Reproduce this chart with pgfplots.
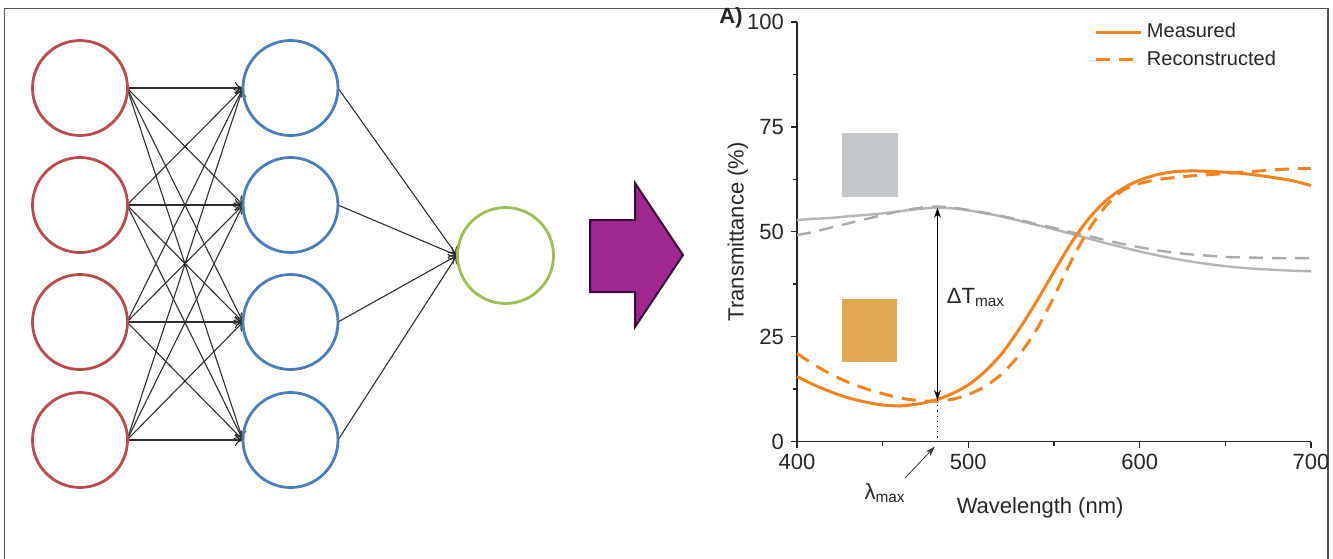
\documentclass[border=0pt]{standalone}
\usepackage{pgfplots}
\pgfplotsset{compat=1.18}
\usepackage{fontspec}
\setmainfont{Liberation Sans}
\usetikzlibrary{arrows.meta}
\definecolor{redc}{HTML}{B84A4E}
\definecolor{bluec}{HTML}{4A7EBB}
\definecolor{greenc}{HTML}{9DBE55}
\definecolor{edgec}{HTML}{2E2E2E}
\definecolor{purplec}{HTML}{9E2890}
\definecolor{purpled}{HTML}{3A0A36}
\definecolor{framec}{HTML}{555555}
\definecolor{orangec}{HTML}{F2831F}
\definecolor{greyc}{HTML}{B5B5B5}
\definecolor{greydc}{HTML}{A9A9A9}
\definecolor{sqgrey}{HTML}{C3C7C9}
\definecolor{sqorange}{HTML}{DFA84F}
\begin{document}
\begin{tikzpicture}
\clip (0,0) rectangle (666.5pt,-279pt);
\fill[white] (0,0) rectangle (666.5pt,-279pt);
\begin{scope}[x=0.5pt,y=-0.5pt]
  \draw[framec, line width=0.7pt] (4.5,8.5) rectangle (1328,570);
  % input -> hidden
  \foreach \a in {88,205,322,440}{
    \foreach \b in {88,205,322,440}{
      \draw[edgec, line width=0.55pt, -{To[length=4pt,width=6pt]}] (127,\a) -- (243,\b);
    }
  }
  % hidden -> output
  \foreach \b in {88,205,322,440}{
    \draw[edgec, line width=0.55pt, -{To[length=4pt,width=6pt]}] (338,\b) -- (457,255.5);
  }
  \foreach \a in {88,205,322,440}{
    \draw[redc, line width=1.4pt] (80,\a) circle[radius=47.5];
    \draw[bluec, line width=1.4pt] (290.5,\a) circle[radius=47.5];
  }
  \draw[greenc, line width=1.4pt] (505.5,255.5) circle[radius=48];
  % big arrow
  \draw[purpled, fill=purplec, line width=1pt, line join=miter]
    (590,220) -- (635,220) -- (635,183) -- (683,255) -- (635,327) -- (635,292) -- (590,292) -- cycle;
  \node[font=\bfseries\fontsize{11}{13}\selectfont, text=black!85] at (731,18) {A)};
\end{scope}
\begin{axis}[
  at={(398.5pt,-220.75pt)}, anchor=south west,
  scale only axis, width=257pt, height=209.75pt,
  xmin=400, xmax=700, ymin=0, ymax=100,
  axis x line*=bottom, axis y line*=left,
  axis line style={-, black!85, line width=0.8pt},
  xtick={400,500,600,700}, ytick={0,25,50,75,100},
  minor x tick num=1, minor y tick num=1,
  tick align=outside, major tick length=3pt, minor tick length=2pt,
  tick style={black!85, line width=0.7pt},
  tick label style={font=\fontsize{11}{13}\selectfont, text=black!85},
  /pgf/number format/assume math mode=true,
  /pgf/number format/1000 sep={},
  xlabel={Wavelength (nm)}, ylabel={Transmittance (\%)},
  label style={font=\fontsize{11}{13}\selectfont, text=black!85},
  xlabel style={at={(axis description cs:0.473,-0.1585)}, anchor=center},
  ylabel style={at={(axis description cs:-0.1148,0.5)}, anchor=center},
  clip=false,
  legend style={at={(axis description cs:0.574,1.012)}, anchor=north west,
    draw=none, fill=none, font=\fontsize{10}{12}\selectfont, text=black!85,
    row sep=1pt, inner sep=1pt},
  legend cell align=left,
  legend image code/.code={\draw[#1] (0cm,0cm) -- (0.8cm,0cm);},
]
\fill[sqgrey] (axis cs:426.3,73.5) rectangle (axis cs:458.9,58.3);
\fill[sqorange] (axis cs:426.3,34.0) rectangle (axis cs:458.4,19.0);

\addplot[greyc, line width=1.2pt, smooth, forget plot] coordinates {
(400,52.8) (410,53.1) (420,53.3) (430,53.7) (440,54.0) (450,54.4) (460,54.9)
(470,55.4) (480,55.7) (490,55.6) (500,55.1) (510,54.4) (520,53.6) (530,52.6)
(540,51.6) (550,50.6) (560,49.5) (570,48.4) (580,47.3) (590,46.3) (600,45.3)
(610,44.4) (620,43.6) (630,42.9) (640,42.3) (650,41.8) (660,41.4) (670,41.1)
(680,40.9) (690,40.7) (700,40.6)};
\addplot[greydc, line width=1.2pt, smooth, dash pattern=on 7pt off 4.5pt, forget plot] coordinates {
(400,49.2) (410,50.0) (420,51.0) (430,52.0) (440,53.0) (450,54.0) (460,54.9)
(470,55.6) (480,56.0) (490,55.8) (500,55.2) (510,54.5) (520,53.7) (530,52.8)
(540,51.8) (550,50.9) (560,49.9) (570,49.0) (580,48.0) (590,47.1) (600,46.3)
(610,45.6) (620,45.0) (630,44.6) (640,44.3) (650,44.0) (660,43.9) (670,43.8)
(680,43.7) (690,43.7) (700,43.7)};

\addplot[orangec, line width=1.5pt, smooth] coordinates {
(400,15.5) (410,13.5) (420,11.8) (430,10.4) (440,9.4) (450,8.7) (460,8.5)
(470,8.9) (480,9.8) (490,11.3) (500,13.5) (510,16.8) (520,21.2) (530,27.0)
(540,33.5) (550,40.5) (560,47.3) (570,53.0) (580,57.3) (590,60.3) (600,62.3)
(610,63.6) (620,64.3) (630,64.5) (640,64.4) (650,64.2) (660,63.9) (670,63.4)
(680,62.8) (690,62.1) (700,61.0)};
\addlegendentry{Measured}
\addplot[orangec, line width=1.5pt, smooth, dash pattern=on 7pt off 4.5pt] coordinates {
(400,21.0) (410,18.3) (420,16.0) (430,14.1) (440,12.6) (450,11.4) (460,10.4)
(470,9.8) (480,9.6) (490,10.0) (500,11.2) (510,13.2) (520,16.3) (530,20.8)
(540,26.8) (550,34.5) (560,43.0) (570,50.3) (580,56.0) (590,59.8) (600,61.5)
(610,62.4) (620,62.9) (630,63.3) (640,63.6) (650,63.9) (660,64.2) (670,64.5)
(680,64.8) (690,65.0) (700,65.1)};
\addlegendentry{Reconstructed}

\draw[black, line width=0.6pt, {Stealth[length=5pt,width=3.5pt]}-{Stealth[length=5pt,width=3.5pt]}]
  (axis cs:482,55.7) -- (axis cs:482,9.9);
\draw[black, dotted, line width=0.6pt] (axis cs:482,9.9) -- (axis cs:482,0);
\draw[black!80, line width=0.4pt, -{Stealth[length=5pt,width=3pt]}]
  (axis cs:463,-8.7) -- (axis cs:480.5,-1.2);
\node[font=\fontsize{11}{13}\selectfont, text=black!85] at (axis cs:451.4,-12.3) {λ\textsubscript{max}};
\node[font=\fontsize{11}{13}\selectfont, text=black!85] at (axis cs:504.5,34.4) {ΔT\textsubscript{max}};
\end{axis}
\end{tikzpicture}
\end{document}
